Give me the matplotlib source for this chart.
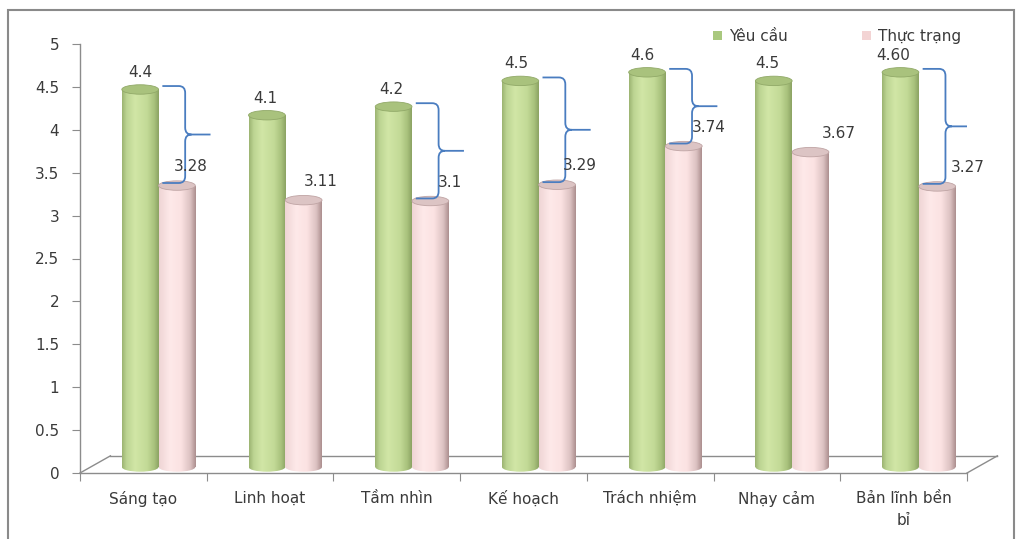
import numpy as np
import matplotlib.pyplot as plt
from matplotlib.colors import to_rgb
from matplotlib.patches import Ellipse, Patch, PathPatch, Rectangle
from matplotlib.path import Path

plt.rcParams["font.family"] = ["DejaVu Sans"]

categories = ["Sáng tạo", "Linh hoạt", "Tầm nhìn", "Kế hoạch",
              "Trách nhiệm", "Nhạy cảm", "Bản lĩnh bền\nbỉ"]
yeu_cau = [4.4, 4.1, 4.2, 4.5, 4.6, 4.5, 4.60]
thuc_trang = [3.28, 3.11, 3.1, 3.29, 3.74, 3.67, 3.27]
yeu_cau_labels = ["4.4", "4.1", "4.2", "4.5", "4.6", "4.5", "4.60"]
thuc_trang_labels = ["3.28", "3.11", "3.1", "3.29", "3.74", "3.67", "3.27"]
brace_at = [0, 2, 3, 4, 6]

TEXT = "#3a3a3a"
AXIS = "#8c8c8c"
BRACE = "#4a7dc0"

GREEN_STOPS = [(0.0, "#9cb472"), (0.12, "#bcd492"), (0.35, "#d1e6a6"),
               (0.68, "#c3da97"), (0.88, "#a8c17c"), (1.0, "#8ca364")]
PINK_STOPS = [(0.0, "#efd5d5"), (0.3, "#fee9e9"), (0.6, "#fbe2e2"),
              (0.85, "#dcc2c2"), (1.0, "#ad9090")]

# fake depth: bars sit half-way back on the floor
DX, DY = 0.12, 0.07
FX, FY = 0.24, 0.20
BAR_W = 0.29
ELL_H = 0.11


def gradient(stops, n=80):
    pos = [p for p, _ in stops]
    cols = np.array([to_rgb(c) for _, c in stops])
    t = np.linspace(0, 1, n)
    return np.stack([np.interp(t, pos, cols[:, k]) for k in range(3)], axis=-1)[None, :, :]


def cylinder(ax, rect, stops, top_face, top_edge, z):
    x0, y0 = rect.get_xy()
    w, h = rect.get_width(), rect.get_height()
    img = gradient(stops)
    ext = (x0, x0 + w, y0 - ELL_H / 2, y0 + h)
    body = ax.imshow(img, extent=ext, aspect="auto", interpolation="bilinear", zorder=z)
    body.set_clip_path(rect)
    foot = Ellipse((x0 + w / 2, y0), w, ELL_H, facecolor="none", linewidth=0)
    ax.add_patch(foot)
    base = ax.imshow(img, extent=ext, aspect="auto", interpolation="bilinear", zorder=z)
    base.set_clip_path(foot)
    ax.add_patch(Ellipse((x0 + w / 2, y0 + h), w, ELL_H, facecolor=top_face,
                         edgecolor=top_edge, linewidth=0.6, zorder=z + 0.1))


def brace(ax, xa, xv, xt, top, bot):
    mid = (top + bot) / 2
    cx, cy = 0.05, 0.08
    verts = [(xa, top), (xv - cx, top), (xv, top), (xv, top - cy),
             (xv, mid + cy), (xv, mid), (xv + cx, mid), (xt, mid),
             (xv + cx, mid), (xv, mid), (xv, mid - cy),
             (xv, bot + cy), (xv, bot), (xv - cx, bot), (xa, bot)]
    codes = [Path.MOVETO, Path.LINETO, Path.CURVE3, Path.CURVE3,
             Path.LINETO, Path.CURVE3, Path.CURVE3, Path.LINETO,
             Path.MOVETO, Path.CURVE3, Path.CURVE3,
             Path.LINETO, Path.CURVE3, Path.CURVE3, Path.LINETO]
    ax.add_patch(PathPatch(Path(verts, codes), facecolor="none", edgecolor=BRACE,
                           linewidth=1.3, zorder=8))


fig = plt.figure(figsize=(10.18, 5.39), dpi=100)
ax = fig.add_axes([80 / 1018, 66 / 539, 887 / 1018, 429 / 539])
ax.set_facecolor("none")

x = np.arange(len(categories))
xg = x + DX - BAR_W / 2
xp = x + DX + BAR_W / 2
bars_g = ax.bar(xg, yeu_cau, BAR_W, bottom=DY, facecolor="none", linewidth=0)
bars_p = ax.bar(xp, thuc_trang, BAR_W, bottom=DY, facecolor="none", linewidth=0)

for i, (rg, rp) in enumerate(zip(bars_g, bars_p)):
    cylinder(ax, rg, GREEN_STOPS, "#a9c27d", "#91a968", 3 + i * 0.5)
    cylinder(ax, rp, PINK_STOPS, "#dcc4c4", "#bfa4a4", 3.2 + i * 0.5)

# value labels
for i in range(len(categories)):
    ax.text(xg[i] - 0.01 * i, yeu_cau[i] + DY + 0.2, yeu_cau_labels[i],
            ha="center", va="center", fontsize=11, color=TEXT, zorder=9)
    ax.text(xp[i] + 0.11 + 0.022 * i, thuc_trang[i] + DY + 0.22, thuc_trang_labels[i],
            ha="center", va="center", fontsize=11, color=TEXT, zorder=9)

# braces marking the gap between required and actual level
for i in brace_at:
    brace(ax, x[i] + 0.15, x[i] + 0.33, x[i] + 0.53,
          yeu_cau[i] + 0.11, thuc_trang[i] + 0.1)

# floor
floor = dict(color=AXIS, linewidth=1.0, clip_on=False, zorder=1)
ax.plot([-0.5, -0.5 + FX], [0, FY], **floor)
ax.plot([-0.5 + FX, 6.5 + FX], [FY, FY], **floor)
ax.plot([6.5, 6.5 + FX], [0, FY], **floor)

ax.set_xlim(-0.5, 6.5)
ax.set_ylim(0, 5)
for side in ("top", "right"):
    ax.spines[side].set_visible(False)
for side in ("left", "bottom"):
    ax.spines[side].set_color(AXIS)
    ax.spines[side].set_linewidth(1.0)

yt = np.arange(0, 5.01, 0.5)
ax.set_yticks(yt)
ax.set_yticklabels([f"{v:g}" for v in yt])
ax.tick_params(axis="y", length=6, color=AXIS, labelsize=11, labelcolor=TEXT, pad=9)

ax.set_xticks(np.arange(-0.5, 7, 1))
ax.set_xticklabels([])
ax.set_xticks(x, minor=True)
ax.set_xticklabels(categories, minor=True)
for lbl in ax.get_xticklabels(minor=True):
    lbl.set_linespacing(1.55)
ax.tick_params(axis="x", which="major", length=6, color=AXIS)
ax.tick_params(axis="x", which="minor", length=0, labelsize=11, labelcolor=TEXT, pad=13)

handles = [Patch(facecolor="#a9c87e", label="Yêu cầu"),
           Patch(facecolor="#f3d4d4", label="Thực trạng")]
fig.legend(handles=handles, loc="upper left", bbox_to_anchor=(699 / 1018, 1 - 15 / 539),
           ncol=2, frameon=False, fontsize=11, handlelength=0.6, handleheight=0.6,
           handletextpad=0.5, columnspacing=4.8, labelcolor=TEXT)

fig.add_artist(Rectangle((8 / 1018, -0.02), 1006 / 1018, 1.02 - 10 / 539,
                         transform=fig.transFigure, facecolor="none",
                         edgecolor="#8a8a8a", linewidth=1.5))

fig.savefig("out.png", dpi=100)
